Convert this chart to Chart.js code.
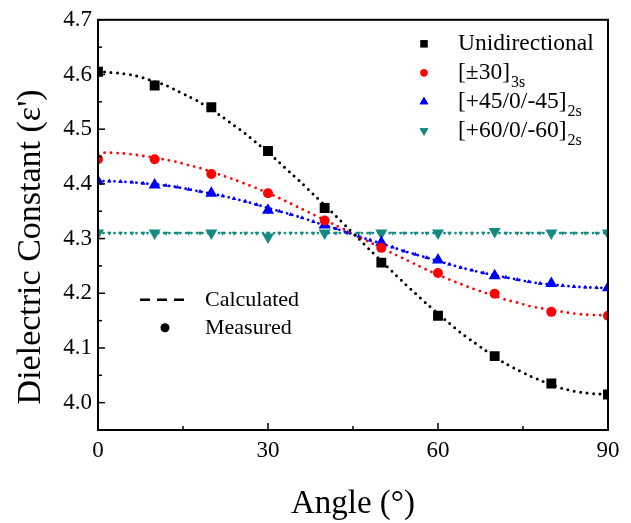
<!DOCTYPE html>
<html><head><meta charset="utf-8">
<script src="https://cdn.jsdelivr.net/npm/chart.js@4/dist/chart.umd.min.js"></script>
<style>html,body{margin:0;padding:0;background:#fff}#wrap{width:631px;height:523px}</style>
</head><body><div id="wrap"><canvas id="c" width="631" height="523"></canvas></div>
<script>
// Measured data (angle in degrees)
const measAngles = [0,10,20,30,40,50,60,70,80,90];
const uniMeas  = [4.605,4.580,4.540,4.460,4.356,4.256,4.159,4.085,4.035,4.015];
const p30Meas  = [4.445,4.445,4.418,4.383,4.333,4.283,4.237,4.199,4.166,4.159];
const p45Meas  = [4.405,4.398,4.383,4.352,4.325,4.293,4.261,4.232,4.218,4.210];
const p60Meas  = [4.310,4.310,4.310,4.303,4.310,4.310,4.310,4.313,4.310,4.310];
// Calculated curves read every 2 degrees
const calcAngles = [0,2,4,6,8,10,12,14,16,18,20,22,24,26,28,30,32,34,36,38,40,42,44,46,48,50,52,54,56,58,60,62,64,66,68,70,72,74,76,78,80,82,84,86,88,90];
const uniCalc = [4.605,4.604,4.602,4.599,4.594,4.587,4.580,4.570,4.560,4.549,4.536,4.522,4.507,4.492,4.475,4.458,4.439,4.420,4.401,4.381,4.361,4.341,4.320,4.300,4.279,4.259,4.239,4.219,4.200,4.181,4.163,4.145,4.128,4.113,4.098,4.084,4.071,4.060,4.050,4.041,4.033,4.026,4.021,4.018,4.016,4.015];
const p30Calc = [4.457,4.457,4.456,4.454,4.451,4.448,4.444,4.440,4.434,4.429,4.422,4.415,4.408,4.400,4.392,4.383,4.374,4.364,4.354,4.344,4.334,4.324,4.314,4.303,4.293,4.283,4.273,4.263,4.253,4.243,4.234,4.225,4.217,4.209,4.202,4.195,4.188,4.183,4.177,4.173,4.169,4.166,4.163,4.161,4.160,4.160];
const p45Calc = [4.405,4.405,4.404,4.403,4.401,4.399,4.397,4.394,4.390,4.386,4.382,4.378,4.373,4.368,4.362,4.356,4.350,4.344,4.338,4.331,4.324,4.318,4.311,4.304,4.297,4.291,4.284,4.277,4.271,4.265,4.259,4.253,4.247,4.242,4.237,4.233,4.229,4.225,4.221,4.218,4.216,4.214,4.212,4.211,4.210,4.210];
const p60Calc = [4.310,4.310,4.310,4.310,4.310,4.310,4.310,4.310,4.310,4.310,4.310,4.310,4.310,4.310,4.310,4.310,4.310,4.310,4.310,4.310,4.310,4.310,4.310,4.310,4.310,4.310,4.310,4.310,4.310,4.310,4.310,4.310,4.310,4.310,4.310,4.310,4.310,4.310,4.310,4.310,4.310,4.310,4.310,4.310,4.310,4.310];
const xTickLabels = [0,30,60,90];
const yTickLabels = [4.0,4.1,4.2,4.3,4.4,4.5,4.6,4.7];
const seriesNames = ['Unidirectional','[±30]','[+45/0/-45]','[+60/0/-60]'];
const seriesSubs = ['','3s','2s','2s'];
const colors = ['#000000','#ff0000','#0000ff','#138a82'];
const xTitle = 'Angle (°)';
const yTitle = "Dielectric Constant (ε')";

const FONT = "'Liberation Serif', 'Times New Roman', serif";
const pts = (xs, ys) => xs.map((x,i)=>({x, y: ys[i]}));

const markerStyles = [
  {pointStyle:'rect', r:7, rot:0},
  {pointStyle:'circle', r:5, rot:0},
  {pointStyle:'triangle', r:7, rot:0},
  {pointStyle:'triangle', r:7, rot:180}
];
const calcs = [uniCalc,p30Calc,p45Calc,p60Calc];
const meas = [uniMeas,p30Meas,p45Meas,p60Meas];

const datasets = [];
calcs.forEach((arr,i)=>{
  const tri = i>=2;
  datasets.push({
    label: seriesNames[i]+' calc', data: pts(calcAngles,arr), showLine:true,
    borderColor: colors[i], backgroundColor: colors[i],
    borderWidth: i===0?3:2.8, borderDash: [0, tri?5.5:6.5], borderCapStyle:'round',
    pointRadius: tri?2.6:0, pointStyle:'triangle', rotation: i===3?180:0,
    pointBorderWidth:0, tension:0.3, order: 2
  });
});
meas.forEach((arr,i)=>{
  datasets.push({
    label: seriesNames[i], data: pts(measAngles,arr), showLine:false,
    borderColor: colors[i], backgroundColor: colors[i],
    pointStyle: markerStyles[i].pointStyle, pointRadius: markerStyles[i].r,
    rotation: markerStyles[i].rot, pointBorderWidth:0, order:1
  });
});

const tickPlugin = {
  id:'ticksBox',
  afterDraw(chart){
    const ctx = chart.ctx, a = chart.chartArea;
    const xs = chart.scales.x, ys = chart.scales.y;
    ctx.save();
    ctx.strokeStyle='#000'; ctx.lineWidth=2;
    ctx.strokeRect(a.left, a.top, a.right-a.left, a.bottom-a.top);
    ctx.lineWidth=1.5;
    xs.ticks.forEach(t=>{
      const px = xs.getPixelForValue(t.value);
      const major = xTickLabels.includes(Math.round(t.value));
      const len = major?7:4;
      ctx.beginPath(); ctx.moveTo(px,a.bottom); ctx.lineTo(px,a.bottom-len); ctx.stroke();
    });
    ys.ticks.forEach(t=>{
      const py = ys.getPixelForValue(t.value);
      const major = Math.abs(Math.round(t.value*10)-t.value*10)<1e-6;
      const len = major?7:4;
      ctx.beginPath(); ctx.moveTo(a.left,py); ctx.lineTo(a.left+len,py); ctx.stroke();
    });
    // axis titles
    ctx.fillStyle='#000';
    ctx.font='33px '+FONT; ctx.textAlign='center'; ctx.textBaseline='alphabetic';
    ctx.fillText(xTitle, (a.left+a.right)/2, a.bottom+83);
    ctx.save();
    ctx.translate(a.left-58, (a.top+a.bottom)/2+22);
    ctx.rotate(-Math.PI/2);
    ctx.font='34px '+FONT;
    ctx.fillText(yTitle, 0, 0);
    ctx.restore();
    // legend 1 (series)
    const lx = a.left + 326, ly0 = a.top + 24, dy = 29;
    ctx.textBaseline='middle'; ctx.textAlign='left';
    seriesNames.forEach((n,i)=>{
      const y = ly0 + i*dy;
      const m = markerStyles[i];
      ctx.fillStyle = colors[i];
      Chart.helpers.drawPoint(ctx,{pointStyle:m.pointStyle, radius:m.r*0.72, rotation:m.rot, borderWidth:0}, lx, y);
      ctx.fill();
      ctx.fillStyle='#000';
      ctx.font = '23.5px '+FONT;
      ctx.fillText(n, lx+34, y);
      if (seriesSubs[i]) {
        const w = ctx.measureText(n).width;
        ctx.font = '16px '+FONT;
        ctx.fillText(seriesSubs[i], lx+34+w+1, y+10);
      }
    });
    // legend 2 (line types)
    const bx = a.left + 42, by = a.top + 280;
    ctx.strokeStyle='#000'; ctx.lineWidth=2.5; ctx.setLineDash([10,7]);
    ctx.beginPath(); ctx.moveTo(bx,by); ctx.lineTo(bx+51,by); ctx.stroke();
    ctx.setLineDash([]);
    ctx.fillStyle='#000';
    ctx.beginPath(); ctx.arc(bx+25, by+28, 4.5, 0, Math.PI*2); ctx.fill();
    ctx.font='22px '+FONT;
    ctx.fillText('Calculated', bx+65, by);
    ctx.fillText('Measured', bx+65, by+28);
    ctx.restore();
  }
};

new Chart(document.getElementById('c'),{
  type:'scatter',
  data:{datasets},
  options:{
    responsive:false, animation:false, devicePixelRatio:1,
    layout:{padding:{top:18,right:23,left:0,bottom:0}},
    plugins:{legend:{display:false},tooltip:{enabled:false}},
    scales:{
      x:{type:'linear',min:0,max:90,
        grid:{display:false,drawTicks:false}, border:{display:false},
        ticks:{stepSize:15,padding:7,color:'#000',font:{family:FONT,size:23},maxRotation:0,autoSkip:false,
          callback:(v)=>xTickLabels.includes(v)?String(v):''},
        title:{display:false},
        afterFit:(s)=>{s.height=93;}
      },
      y:{type:'linear',min:3.95,max:4.7,
        grid:{display:false,drawTicks:false}, border:{display:false},
        ticks:{stepSize:0.05,padding:6,color:'#000',font:{family:FONT,size:23},autoSkip:false,
          callback:(v)=>{const k=Math.round(v*100); return (k%10===0)? (k/100).toFixed(1):'';}},
        title:{display:false},
        afterFit:(s)=>{s.width=98;}
      }
    }
  },
  plugins:[tickPlugin]
});
</script></body></html>
